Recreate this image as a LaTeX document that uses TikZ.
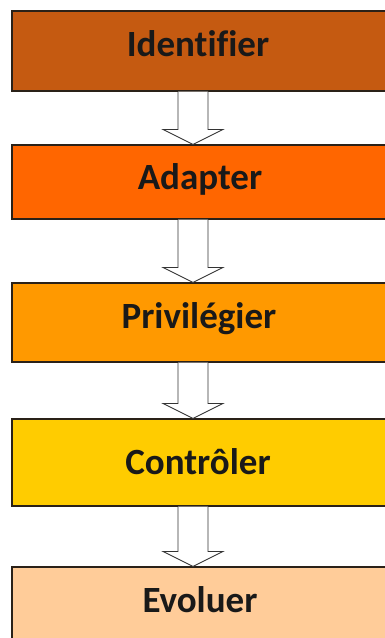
\documentclass[tikz,border=0pt]{standalone}
\usepackage{fontspec}
\setmainfont[Ligatures=NoCommon]{Carlito}
\usetikzlibrary{calc}

\definecolor{stepA}{HTML}{C55A11}
\definecolor{stepB}{HTML}{FF6600}
\definecolor{stepC}{HTML}{FF9900}
\definecolor{stepD}{HTML}{FFCC00}
\definecolor{stepE}{HTML}{FFCC99}
\definecolor{edge}{HTML}{2A2118}

\tikzset{
  stagebox/.style={draw=edge, line width=1.1pt, rectangle, inner sep=0pt,
    minimum width=376pt},
  stagelabel/.style={font=\fontsize{37}{42}\selectfont\bfseries,
    text=black!90, inner sep=0pt, text height=24pt, text depth=0pt},
  hollow/.style={draw=black!80, line width=0.9pt, fill=white, line join=miter},
}

\begin{document}
\begin{tikzpicture}[x=1pt, y=-1pt]
  \useasboundingbox (0,0) rectangle (385,638);

  % the five stages
  \node[stagebox, fill=stepA, minimum height=80pt] (b1) at (200,51) {};
  \node[stagebox, fill=stepB, minimum height=74pt] (b2) at (200,182) {};
  \node[stagebox, fill=stepC, minimum height=79pt] (b3) at (200,322.5) {};
  \node[stagebox, fill=stepD, minimum height=87pt] (b4) at (200,462.5) {};
  \node[stagebox, fill=stepE, minimum height=80pt] (b5) at (200,607) {};

  \node[stagelabel] (t1) at (198,44.5)  {Identifier};
  \node[stagelabel] (t2) at (200,177.5) {Adapter};
  \node[stagelabel] (t3) at (199,316.5) {Privilégier};
  \node[stagelabel] (t4) at (198,462.5) {Contrôler};
  \node[stagelabel] (t5) at (200,600.5) {Evoluer};

  % hollow block arrows between consecutive stages
  \coordinate (axis) at (193,0);
  \foreach \a/\b in {b1/b2, b2/b3, b3/b4, b4/b5}{
    \coordinate (s) at (\a.south -| axis);
    \coordinate (t) at (\b.north -| axis);
    \draw[hollow]
      ([xshift=-15pt]s) -- ([xshift=-15pt, yshift=15pt]t)
      -- ([xshift=-30pt, yshift=15pt]t) -- (t)
      -- ([xshift=30pt, yshift=15pt]t) -- ([xshift=15pt, yshift=15pt]t)
      -- ([xshift=15pt]s);
  }
\end{tikzpicture}
\end{document}
